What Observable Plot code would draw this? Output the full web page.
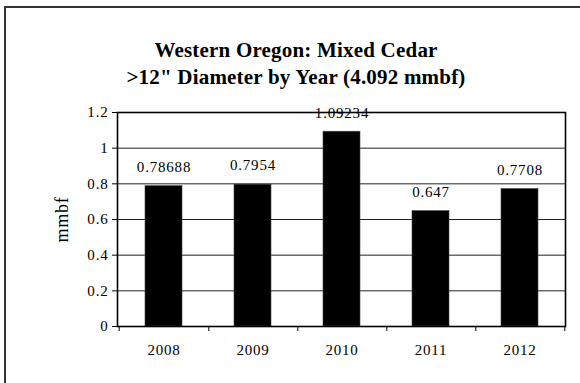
<!DOCTYPE html>
<html>
<head>
<meta charset="utf-8">
<script src="https://cdn.jsdelivr.net/npm/d3@7"></script>
<script src="https://cdn.jsdelivr.net/npm/@observablehq/plot@0.6"></script>
<style>
  html, body { margin: 0; padding: 0; background: #fff; }
  #wrap { position: relative; width: 580px; height: 383px; overflow: hidden; background: #fff;
          font-family: "Liberation Serif", "Times New Roman", serif; }
  #frame { position: absolute; left: 4px; top: 6px; width: 600px; height: 400px;
           border-top: 2px solid #333; border-left: 2px solid #333; box-sizing: border-box; }
  #title { position: relative; height: 100px; box-sizing: border-box; padding-top: 37px; padding-left: 12px;
           text-align: center; font-weight: bold; font-size: 21px; line-height: 27px; letter-spacing: 0.2px; color: #000; }
  #chart { position: relative; }
</style>
</head>
<body>
<div id="wrap">
  <div id="frame"></div>
  <div id="title"><div>Western Oregon: Mixed Cedar</div><div>&gt;12" Diameter by Year (4.092 mmbf)</div></div>
  <div id="chart"></div>
</div>
<script>
const years = ["2008", "2009", "2010", "2011", "2012"];
const values = [0.78688, 0.7954, 1.09234, 0.647, 0.7708];
const valueLabels = ["0.78688", "0.7954", "1.09234", "0.647", "0.7708"];
const yTicks = [0, 0.2, 0.4, 0.6, 0.8, 1.0, 1.2];
const yTickLabels = ["0", "0.2", "0.4", "0.6", "0.8", "1", "1.2"];
const yTitle = "mmbf";

const data = years.map((y, i) => ({year: y, value: values[i], label: valueLabels[i]}));
const gridTicks = yTicks.filter(t => t > 0);
const labelOf = new Map(yTicks.map((t, i) => [t, yTickLabels[i]]));

const chart = Plot.plot({
  width: 580,
  height: 283,
  marginTop: 12,
  marginBottom: 57,
  marginLeft: 117,
  marginRight: 15,
  style: {fontFamily: "'Liberation Serif', 'Times New Roman', serif", fontSize: "15px", color: "#000", background: "transparent", letterSpacing: "0.8px"},
  x: {type: "band", domain: years, paddingInner: 0.587, paddingOuter: 0.2935},
  y: {domain: [0, 1.2]},
  marks: [
    Plot.gridY(gridTicks, {stroke: "#222", strokeOpacity: 1, strokeWidth: 1}),
    Plot.barY(data, {x: "year", y: "value", fill: "#000", stroke: "#444", strokeWidth: 0.6}),
    Plot.frame({stroke: "#000", strokeWidth: 1.6}),
    Plot.axisY({ticks: yTicks, tickSize: 5, tickPadding: 4, tickFormat: d => labelOf.get(d), label: null, fontSize: 15, stroke: "#000"}),
    Plot.axisX({tickSize: 0, tickPadding: 18, label: null, fontSize: 15}),
    Plot.axisX({tickSize: 5, text: null, label: null, dx: 44.8, stroke: "#000"}),
    Plot.axisX([years[0]], {tickSize: 5, text: null, label: null, dx: -44.8, stroke: "#000"}),
    Plot.text(data, {x: "year", y: "value", text: "label", dy: -19, fontSize: 15, fill: "#000"}),
    Plot.text([yTitle], {frameAnchor: "left", textAnchor: "middle", dx: -55, rotate: -90, fontSize: 18, fill: "#000"})
  ]
});
document.getElementById("chart").appendChild(chart);
</script>
</body>
</html>
